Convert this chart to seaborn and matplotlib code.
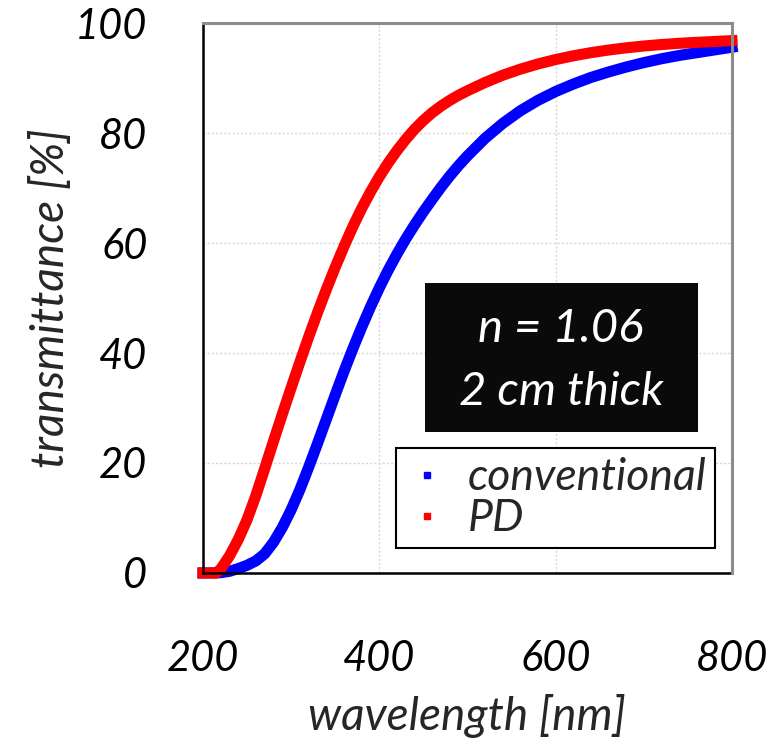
import numpy as np
import matplotlib.pyplot as plt
import pandas as pd
import seaborn as sns
from matplotlib.lines import Line2D
from matplotlib.patches import Rectangle

# values
wavelength_conv = [200, 210, 220, 230, 240, 250, 260, 270, 280, 290, 300, 310, 320, 330,
                   340, 350, 360, 370, 380, 390, 400, 410, 420, 430, 440, 450, 460, 470,
                   480, 490, 500, 520, 540, 560, 580, 600, 620, 640, 660, 680, 700, 720,
                   740, 760, 780, 800]
trans_conv = [0, 0, 0.05, 0.3, 0.8, 1.4, 2.2, 3.5, 5.6, 8.3, 11.5, 15.2, 19.3, 23.6,
              28.0, 32.4, 36.7, 40.8, 44.7, 48.4, 51.85, 55.05, 58.0, 60.75, 63.3, 65.7, 67.95, 70.15,
              72.2, 74.1, 75.85, 79.05, 81.75, 84.05, 85.95, 87.55, 88.9, 90.1, 91.1, 92.0, 92.8, 93.5,
              94.1, 94.6, 95.1, 95.6]

wavelength_pd = [200, 210, 215, 220, 230, 240, 250, 260, 270, 280, 290, 300, 310, 320,
                 330, 340, 350, 360, 370, 380, 390, 400, 410, 420, 430, 440, 450, 460,
                 470, 480, 490, 500, 520, 540, 560, 580, 600, 620, 640, 660, 680, 700,
                 720, 740, 760, 780, 800]
trans_pd = [0, 0, 0, 0.7, 3.1, 6.1, 9.7, 14.1, 19.0, 24.0, 28.9, 33.7, 38.4, 43.0,
            47.4, 51.6, 55.6, 59.4, 63.0, 66.3, 69.3, 72.05, 74.55, 76.8, 78.85, 80.7, 82.3, 83.7,
            84.9, 85.95, 86.87, 87.69, 89.19, 90.51, 91.61, 92.56, 93.36, 94.04, 94.61, 95.09, 95.49, 95.82,
            96.09, 96.31, 96.49, 96.64, 96.8]

series_names = ["conventional", "PD"]
series_colors = ["#0000ff", "#ff0000"]
x_ticks = [200, 400, 600, 800]
y_ticks = [0, 20, 40, 60, 80, 100]
box_lines = ["n = 1.06", "2 cm thick"]

df = pd.concat([
    pd.DataFrame({"wavelength": wavelength_conv, "transmittance": trans_conv, "series": "conventional"}),
    pd.DataFrame({"wavelength": wavelength_pd, "transmittance": trans_pd, "series": "PD"}),
])

sns.set_theme(style="white")
plt.rcParams["font.family"] = ["Lato", "DejaVu Sans"]
plt.rcParams["font.style"] = "italic"

fig = plt.figure(figsize=(7.74, 7.38), dpi=100)
ax = fig.add_axes([0.2623, 0.2236, 0.6834, 0.7452])

sns.lineplot(data=df, x="wavelength", y="transmittance", hue="series",
             palette=dict(zip(series_names, series_colors)), hue_order=series_names,
             estimator=None, linewidth=8, legend=False, ax=ax)
for line in ax.get_lines():
    line.set_solid_capstyle("projecting")
    line.set_solid_joinstyle("round")
    line.set_clip_on(False)

ax.set_xlim(200, 800)
ax.set_ylim(0, 100)
ax.set_xticks(x_ticks)
ax.set_yticks(y_ticks)

ax.set_axisbelow(True)
ax.grid(True, color="#d6d6d6", linestyle=(0, (1.5, 1.5)), linewidth=1)

for side in ["left", "bottom"]:
    ax.spines[side].set_color("black")
    ax.spines[side].set_linewidth(1.8)
for side in ["top", "right"]:
    ax.spines[side].set_color("#8c8c8c")
    ax.spines[side].set_linewidth(2.2)
    ax.spines[side].set_zorder(5)

ax.tick_params(axis="both", direction="in", length=11, width=1.8, colors="black",
               labelsize=30, top=False, right=False)
ax.tick_params(axis="x", pad=48)
ax.tick_params(axis="y", pad=40)

ax.set_xlabel("wavelength [nm]", fontsize=33, labelpad=12)
ax.set_ylabel("transmittance [%]", fontsize=33, labelpad=2)

# black info box
ax.add_patch(Rectangle((0.4197, 0.2564), 0.516, 0.2706, transform=ax.transAxes,
                       facecolor="#0a0a0a", edgecolor="none", zorder=6))
ax.text(0.677, 0.4436, box_lines[0], transform=ax.transAxes, color="white",
        fontsize=34, ha="center", va="center", zorder=7)
ax.text(0.677, 0.329, box_lines[1], transform=ax.transAxes, color="white",
        fontsize=34, ha="center", va="center", zorder=7)

handles = [Line2D([], [], marker="s", linestyle="none", color=c, markersize=4.5)
           for c in series_colors]
leg = ax.legend(handles, series_names, loc="lower right", bbox_to_anchor=(0.968, 0.0455),
                frameon=True, fancybox=False, edgecolor="black", framealpha=1,
                fontsize=32, handlelength=1.0, handletextpad=0.4, labelspacing=0.0,
                borderpad=0.2, borderaxespad=0)
leg.get_frame().set_linewidth(1.5)
leg.set_zorder(8)

fig.savefig("out.png", dpi=100)
